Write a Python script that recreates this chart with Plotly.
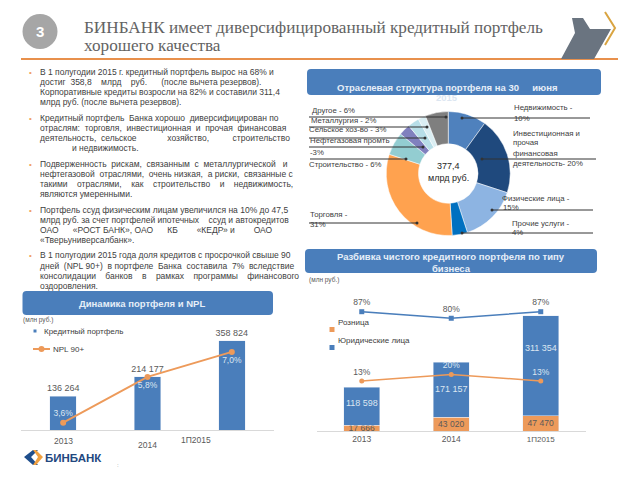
import plotly.graph_objects as go

# left chart
left_years = ['2013', '2014', '1П2015']
portfolio = [136264, 214177, 358824]
npl = [3.6, 5.8, 7.0]
npl_labels = ['3,6%', '5,8%', '7,0%']

# right chart
right_years = ['2013', '2014', '<span style="font-size:8px">1П2015</span>']
retail = [17666, 43020, 47470]
corporate = [118598, 171157, 311354]
corp_share = [87, 80, 87]
retail_share = [13, 20, 13]

# donut
sectors = ['Недвижимость', 'Инвестиционная и прочая финансовая деятельность', 'Физические лица',
           'Прочие услуги', 'Торговля', 'Строительство', 'Нефтегазовая промть',
           'Сельское хоз-во', 'Металлургия', 'Другое']
sector_share = [10, 20, 15, 4, 31, 6, 3, 3, 2, 6]
sector_colors = ['#4F81BD', '#1F497D', '#8DB4E2', '#0070C0', '#FFA24F',
                 '#93CDD1', '#8080BE', '#B7DEE8', '#DAEEF3', '#7F7F7F']

# text block: (x, y, line) in pixels, double spaces stand for justified gaps
body_lines = [
    (40, 72, 'В 1 полугодии 2015 г. кредитный портфель вырос на 68% и'),
    (40, 82, 'достиг  358,8    млрд    руб.      (после вычета резервов).'),
    (40, 92, 'Корпоративные кредиты возросли на 82% и составили 311,4'),
    (40, 102, 'млрд руб. (после вычета резервов).'),
    (40, 118, 'Кредитный портфель  Банка хорошо  диверсифицирован по'),
    (40, 128, 'отраслям:  торговля,  инвестиционная  и  прочая  финансовая'),
    (40, 138, 'деятельность,  сельское             хозяйство,          строительство'),
    (72, 148, 'и недвижимость.'),
    (40, 164, 'Подверженность  рискам,  связанным  с  металлургической   и'),
    (40, 174, 'нефтегазовой  отраслями,  очень низкая,  а риски,  связанные с'),
    (40, 184, 'такими    отраслями,    как    строительство    и    недвижимость,'),
    (40, 194, 'являются умеренными.'),
    (40, 210, 'Портфель ссуд физическим лицам увеличился на 10% до 47,5'),
    (40, 220, 'млрд руб. за счет портфелей ипотечных    ссуд и автокредитов'),
    (40, 230, 'ОАО      «РОСТ БАНК», ОАО      КБ        «КЕДР» и        ОАО'),
    (40, 240, '«Тверьуниверсалбанк».'),
    (40, 255, 'В 1 полугодии 2015 года доля кредитов с просрочкой свыше 90'),
    (40, 266, 'дней  (NPL 90+)  в портфеле  Банка  составила  7%  вследствие'),
    (40, 276, 'консолидации    банков    в    рамках    программы    финансового'),
    (40, 286, 'оздоровления.'),
]
bullet_rows = [72, 118, 164, 210, 255]

# donut callouts: x, y, text
pie_labels = [
    (312, 111, 'Другое - 6%'), (311, 120, 'Металлургия - 2%'),
    (309, 130, 'Сельское хоз-во - 3%'), (310, 141, 'Нефтегазовая промть'),
    (310, 152, '-3%'), (309, 164, 'Строительство - 6%'),
    (310, 214, 'Торговля -'), (310, 224, '31%'),
    (514, 108, 'Недвижимость -'), (514, 118, '10%'),
    (513, 133, 'Инвестиционная и'), (513, 143, 'прочая'),
    (513, 153, 'финансовая'), (513, 163, 'деятельность- 20%'),
    (502, 198, 'Физические лица -'), (503, 207, '15%'),
    (512, 223, 'Прочие услуги -'), (512, 232, '4%'),
]
# leader lines: x0, x1, y (x1 end has the dot)
leaders = [
    (309, 446, 117), (309, 427, 127), (309, 425, 138), (309, 423, 147), (310, 406, 159),
    (309, 417, 223), (590, 462, 118), (596, 482, 159), (593, 492, 210), (593, 462, 233),
]


def X(px):
    return px / 640


def Y(py):
    return 1 - py / 480


def thousands(v):
    return f'{v:,}'.replace(',', ' ')


def rounded(x0, y0, x1, y1, r=4):
    return (f'M{X(x0 + r)},{Y(y0)} L{X(x1 - r)},{Y(y0)} Q{X(x1)},{Y(y0)} {X(x1)},{Y(y0 + r)} '
            f'L{X(x1)},{Y(y1 - r)} Q{X(x1)},{Y(y1)} {X(x1 - r)},{Y(y1)} '
            f'L{X(x0 + r)},{Y(y1)} Q{X(x0)},{Y(y1)} {X(x0)},{Y(y1 - r)} '
            f'L{X(x0)},{Y(y0 + r)} Q{X(x0)},{Y(y0)} {X(x0 + r)},{Y(y0)} Z')


def poly(points):
    return 'M' + ' L'.join(f'{X(a)},{Y(b)}' for a, b in points) + ' Z'


annotations = []
shapes = []


def note(x, y, text, size=8, color='#404040', anchor='left', bold=False, font='Liberation Sans'):
    if bold:
        text = f'<b>{text}</b>'
    annotations.append(dict(x=X(x), y=Y(y), xref='paper', yref='paper', text=text, showarrow=False,
                            xanchor=anchor, yanchor='middle', align=anchor,
                            font=dict(size=size, color=color, family=font),
                            borderpad=0, borderwidth=0))


def box(x0, y0, x1, y1, color):
    shapes.append(dict(type='rect', xref='paper', yref='paper', x0=X(x0), x1=X(x1), y0=Y(y0), y1=Y(y1),
                       fillcolor=color, line_width=0))


def dot(x, y, r, color):
    shapes.append(dict(type='circle', xref='paper', yref='paper', x0=X(x - r), x1=X(x + r),
                       y0=Y(y - r), y1=Y(y + r), fillcolor=color, line_width=0))


def seg(x0, y0, x1, y1, color, width):
    shapes.append(dict(type='line', xref='paper', yref='paper', x0=X(x0), x1=X(x1), y0=Y(y0), y1=Y(y1),
                       line=dict(color=color, width=width)))


def path(d, color, line_color=None, width=0):
    shapes.append(dict(type='path', xref='paper', yref='paper', path=d, fillcolor=color,
                       line=dict(color=line_color or color, width=width)))


fig = go.Figure()

# left chart traces
fig.add_trace(go.Bar(x=left_years, y=portfolio, width=0.314, marker_color='#4A7EBB', xaxis='x', yaxis='y',
                     text=[thousands(v) for v in portfolio], textposition='outside', constraintext='none',
                     textfont=dict(size=9, color='#595959', family='Liberation Sans'),
                     cliponaxis=False, name='Кредитный портфель'))
fig.add_trace(go.Scatter(x=left_years, y=npl, mode='lines+markers+text', xaxis='x', yaxis='y2',
                         line=dict(color='#ED9A5A', width=2), marker=dict(color='#ED9A5A', size=6),
                         text=npl_labels, textposition=['top center', 'bottom center', 'bottom center'],
                         textfont=dict(size=8.5, color='#DCE6F1', family='Liberation Sans'),
                         cliponaxis=False, name='NPL 90+'))

# right chart traces
fig.add_trace(go.Bar(x=right_years, y=retail, width=0.4, marker_color='#ED9A5A', xaxis='x2', yaxis='y3',
                     text=[thousands(v) for v in retail], textposition='inside', constraintext='none',
                     insidetextanchor='middle', textfont=dict(size=8.5, color='#595959', family='Liberation Sans'),
                     cliponaxis=False, name='Розница'))
fig.add_trace(go.Bar(x=right_years, y=corporate, width=0.4, marker_color='#4A7EBB', xaxis='x2', yaxis='y3',
                     name='Юридические лица'))
fig.add_trace(go.Scatter(x=right_years, y=corp_share, mode='lines+markers+text', xaxis='x2', yaxis='y4',
                         line=dict(color='#4A7EBB', width=1.5), marker=dict(color='#4A7EBB', size=5, symbol='square'),
                         text=[f'{v}%' for v in corp_share], textposition='top center',
                         textfont=dict(size=8.5, color='#595959', family='Liberation Sans'),
                         cliponaxis=False, name='Юрлица, доля'))
fig.add_trace(go.Scatter(x=right_years, y=retail_share, mode='lines+markers+text', xaxis='x2', yaxis='y4',
                         line=dict(color='#ED9A5A', width=1.5), marker=dict(color='#ED9A5A', size=5),
                         text=[f'{v}%' for v in retail_share], textposition='top center',
                         textfont=dict(size=8.5, color=['#595959', '#DCE6F1', '#DCE6F1'], family='Liberation Sans'),
                         cliponaxis=False, name='Розница, доля'))

# donut
fig.add_trace(go.Pie(labels=sectors, values=sector_share, hole=0.48, sort=False, direction='clockwise',
                     rotation=0, textinfo='none', marker=dict(colors=sector_colors, line=dict(color='white', width=0.5)),
                     domain=dict(x=[X(386), X(510.5)], y=[Y(235.5), Y(111.5)]), showlegend=False))

# header
dot(40, 31.5, 17.5, '#A6A6A6')
note(40, 32, '3', size=15, color='white', anchor='center', bold=True)
note(84, 27, 'БИНБАНК имеет диверсифицированный кредитный портфель', size=17.2, color='#636363', font='Liberation Serif')
note(84, 45, 'хорошего качества', size=17.2, color='#636363', font='Liberation Serif')
seg(21, 59, 618, 59, '#E8904C', 2)

# corner logo
path(poly([(561, 59), (575, 33), (572, 18), (583, 18), (590, 29), (611, 29), (594, 59)]), '#6A7480')
shapes.append(dict(type='path', xref='paper', yref='paper',
                   path=f'M{X(605)},{Y(12)} L{X(615)},{Y(28)} L{X(605)},{Y(45)}',
                   line=dict(color='#D9A441', width=2)))

# body text
for row in bullet_rows:
    note(30, row, '•', size=8, color='#F0A060', anchor='center')
for x, y, line in body_lines:
    note(x, y, line.replace(' ', '\u00a0'), size=8.5)

# panel titles
path(rounded(307, 69, 601, 95), '#4A7EBB')
note(447, 87, 'Отраслевая структура портфеля на 30     июня', size=9.5, color='#E6EEF8', anchor='center', bold=True)
note(447, 98, '2015', size=9.5, color='#DCE6F1', anchor='center', bold=True)
path(rounded(305, 249, 597, 273), '#4A7EBB')
note(451, 256, 'Разбивка чистого кредитного портфеля по типу', size=9.5, color='#E6EEF8', anchor='center', bold=True)
note(451, 268, 'бизнеса', size=9.5, color='#E6EEF8', anchor='center', bold=True)
path(rounded(22.5, 291, 273, 315), '#4A7EBB')
note(142, 303, 'Динамика портфеля и NPL', size=9.5, color='#E6EEF8', anchor='center', bold=True)

# donut callouts
for x, y, text in pie_labels:
    note(x, y, text, size=7.8)
for x0, x1, y in leaders:
    seg(x0, y, x1, y, '#333333', 1)
    dot(x1, y, 1.5, '#333333')
note(448, 166, '377,4', size=9, color='#262626', anchor='center')
note(448, 178, 'млрд руб.', size=9, color='#262626', anchor='center')

# left chart legend and texts
note(23, 320, '(млн руб.)', size=6.5, color='#595959')
box(33.5, 329.5, 36.5, 332.5, '#4A7EBB')
note(44, 331.5, 'Кредитный портфель', size=8)
seg(33, 349, 50, 349, '#ED9A5A', 2)
dot(41.5, 349, 3, '#ED9A5A')
note(53, 349, 'NPL 90+', size=8)
note(63, 441, '2013', size=8.5, color='#595959', anchor='center')
note(147, 445, '2014', size=8.5, color='#595959', anchor='center')
note(196, 440, '1П2015', size=8.5, color='#595959', anchor='center')

# right chart legend and texts
note(309, 280, '(млн руб.)', size=6.5, color='#595959')
box(329.5, 327, 334.5, 332, '#ED9A5A')
note(338, 322, 'Розница', size=8)
box(329.5, 345, 334.5, 350, '#4A7EBB')
note(338, 340, 'Юридические лица', size=8)
for x, y, v in zip([362, 451, 540.5], [403, 389, 348], corporate):
    note(x, y, thousands(v), size=9, color='#DCE6F1', anchor='center')

# bottom logo
path(poly([(33, 450), (24, 457), (33, 465), (38, 465), (31, 457), (38, 450)]), '#1F4E8C')
path(poly([(36, 450), (43, 457), (36, 465), (33, 465), (38, 457), (33, 450)]), '#F0A040')
note(45, 458, 'БИНБАНК', size=11.5, color='#23487F', bold=True)
note(118, 465, ':', size=6, color='#808080', anchor='center')

hidden = dict(visible=False, fixedrange=True)
fig.update_layout(
    width=640, height=480, autosize=False, margin=dict(l=0, r=0, t=0, b=0),
    paper_bgcolor='white', plot_bgcolor='white', showlegend=False, barmode='stack',
    font=dict(family='Liberation Sans'), shapes=shapes, annotations=annotations,
    xaxis=dict(domain=[X(21), X(274)], range=[-0.5, 2.5], type='category', showticklabels=False, ticks='',
               showline=True, linecolor='#D9D9D9', linewidth=1, showgrid=False, zeroline=False),
    yaxis=dict(domain=[Y(430), Y(330)], range=[0, 401000], **hidden),
    yaxis2=dict(range=[3.25, 8.05], overlaying='y', **hidden),
    xaxis2=dict(domain=[X(317), X(585.5)], range=[-0.5, 2.5], type='category', anchor='y3',
                showline=True, linecolor='#D9D9D9', linewidth=1, showgrid=False, zeroline=False,
                tickfont=dict(size=8.5, color='#595959')),
    yaxis3=dict(domain=[Y(431), Y(311)], range=[0, 373800], anchor='x2', **hidden),
    yaxis4=dict(range=[-40.4, 87.75], anchor='x2', overlaying='y3', **hidden),
)

# browser default body margin would shift the 640x480 page
fig.write_html('out.html', config={'displayModeBar': False}, post_script="document.body.style.margin='0';")
